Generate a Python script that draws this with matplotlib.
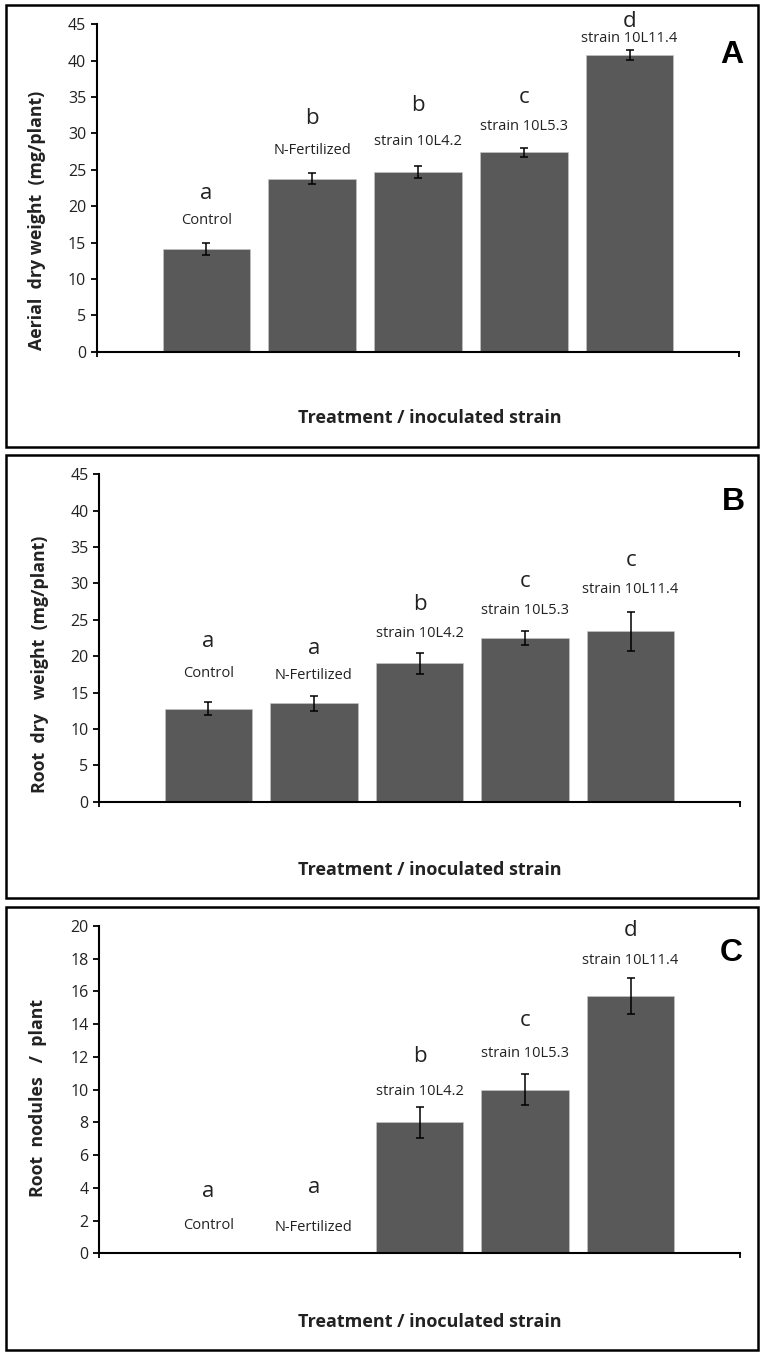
import matplotlib

matplotlib.use("Agg")

import matplotlib.pyplot as plt
from matplotlib.patches import Rectangle

categories = ["Control", "N-Fertilized", "strain 10L4.2", "strain 10L5.3", "strain 10L11.4"]

aerial_weight = [14.1, 23.8, 24.7, 27.4, 40.8]
aerial_err = [0.87, 0.75, 0.8, 0.66, 0.69]
aerial_letters = ["a", "b", "b", "c", "d"]

root_weight = [12.8, 13.5, 19.0, 22.5, 23.4]
root_err = [0.94, 1.03, 1.5, 0.96, 2.7]
root_letters = ["a", "a", "b", "c", "c"]

nodules = [0.0, 0.0, 8.0, 10.0, 15.7]
nodules_err = [0.0, 0.0, 0.93, 0.94, 1.1]
nodules_letters = ["a", "a", "b", "c", "d"]

BAR_COLOR = "#595959"
TEXT_COLOR = "#222222"
FONT = "Open Sans"

panels = [
    dict(values=aerial_weight, err=aerial_err, letters=aerial_letters,
         ylabel="Aerial  dry weight  (mg/plant)", tag="A",
         ymax=45, step=5,
         letter_y=[21.8, 32.1, 33.8, 35.0, 45.4],
         label_y=[18.0, 27.6, 28.9, 31.0, 43.1],
         ax_rect=[96.7, 739.3, 351.7, 24.3], box=[6, 757.7, 5, 447],
         ylabel_pos=(36.7, 220), xlabel_y=418.3, tag_pos=(731.7, 55)),
    dict(values=root_weight, err=root_err, letters=root_letters,
         ylabel="Root  dry   weight  (mg/plant)", tag="B",
         ymax=45, step=5,
         letter_y=[22.0, 21.0, 27.1, 30.2, 33.2],
         label_y=[17.6, 17.3, 23.1, 26.3, 29.2],
         ax_rect=[99, 740, 801.7, 474.3], box=[6, 757.7, 455, 898],
         ylabel_pos=(40, 664), xlabel_y=870, tag_pos=(733, 501.7)),
    dict(values=nodules, err=nodules_err, letters=nodules_letters,
         ylabel="Root  nodules   /  plant", tag="C",
         ymax=20, step=2,
         letter_y=[3.8, 4.0, 12.0, 14.2, 19.75],
         label_y=[1.7, 1.6, 9.9, 12.2, 17.9],
         ax_rect=[99, 740, 1253.3, 926], box=[6, 757.7, 907, 1350],
         ylabel_pos=(38, 1097.5), xlabel_y=1321.7, tag_pos=(731.7, 953.3)),
]

W, H = 765, 1356
fig = plt.figure(figsize=(W / 100, H / 100), dpi=100)


def fx(px):
    return px / W


def fy(py):
    return 1 - py / H


for p in panels:
    x0, x1, y0, y1 = p["ax_rect"]
    ax = fig.add_axes([fx(x0), fy(y0), fx(x1 - x0), fy(y1) - fy(y0)])
    pos = list(range(len(categories)))
    ax.bar(pos, p["values"], width=0.83, color=BAR_COLOR, edgecolor="#c8c8c8", linewidth=0.4, zorder=2)
    idx = [i for i, e in enumerate(p["err"]) if e > 0]
    ax.errorbar([pos[i] for i in idx], [p["values"][i] for i in idx],
                yerr=[p["err"][i] for i in idx], fmt="none", ecolor="black",
                elinewidth=1.1, capsize=3.2, capthick=1.1, zorder=3)
    for i, cat in enumerate(categories):
        ax.text(pos[i], p["letter_y"][i], p["letters"][i], ha="center", va="center",
                fontsize=16, family=FONT, color=TEXT_COLOR, clip_on=False)
        ax.text(pos[i], p["label_y"][i], cat, ha="center", va="center",
                fontsize=10.5, family=FONT, color=TEXT_COLOR, clip_on=False)

    ax.set_xlim(-1.037, len(categories) - 1 + 1.037)
    ax.set_ylim(0, p["ymax"])
    ax.set_yticks(range(0, p["ymax"] + 1, p["step"]))
    ax.set_xticks([-1.037, len(categories) - 1 + 1.037])
    ax.set_xticklabels(["", ""])
    for side in ("top", "right"):
        ax.spines[side].set_visible(False)
    ax.spines["left"].set_linewidth(1.5)
    ax.spines["bottom"].set_linewidth(1.5)
    ax.tick_params(axis="y", direction="out", length=4.5, width=1.3, labelsize=11.5, pad=3,
                   labelcolor=TEXT_COLOR)
    ax.tick_params(axis="x", direction="out", length=3.5, width=1.3)
    for lab in ax.get_yticklabels():
        lab.set_family(FONT)
    ax.patch.set_alpha(0)

    bx0, bx1, by0, by1 = p["box"]
    fig.patches.append(Rectangle((fx(bx0), fy(by1)), fx(bx1 - bx0), fy(by0) - fy(by1),
                                 transform=fig.transFigure, fill=False, edgecolor="black",
                                 linewidth=1.8, zorder=0))

    fig.text(fx(p["ylabel_pos"][0]), fy(p["ylabel_pos"][1]), p["ylabel"], rotation=90,
             ha="center", va="center", fontsize=12.8, fontweight="bold", family=FONT,
             color=TEXT_COLOR)
    fig.text(fx(430), fy(p["xlabel_y"]), "Treatment / inoculated strain", ha="center",
             va="center", fontsize=13, fontweight="bold", family=FONT, color=TEXT_COLOR)
    fig.text(fx(p["tag_pos"][0]), fy(p["tag_pos"][1]), p["tag"], ha="center", va="center",
             fontsize=23, fontweight="bold", family="Liberation Sans", color="black")

fig.savefig("out.png", dpi=100)
